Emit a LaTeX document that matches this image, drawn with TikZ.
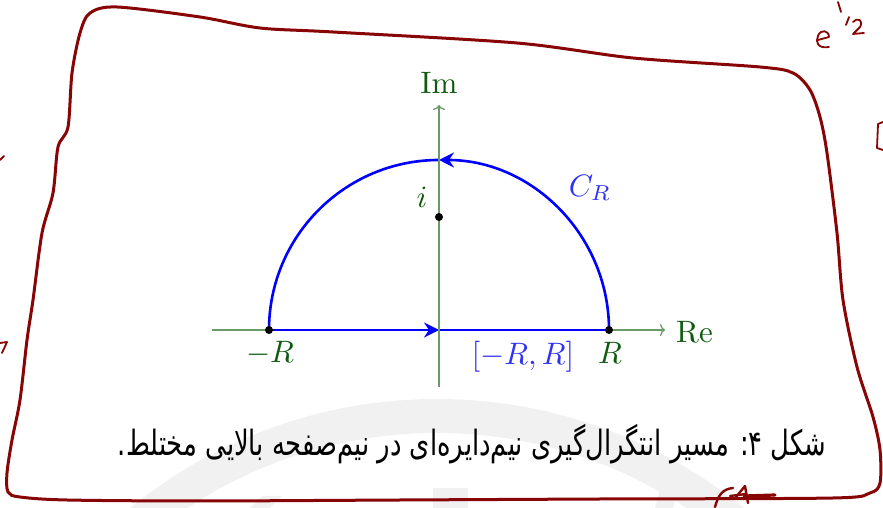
\documentclass[tikz,border=0pt]{standalone}
\usepackage{fontspec}
\newfontfamily\arabicfont[Script=Arabic]{DejaVu Sans}
\TeXXeTstate=1
\usetikzlibrary{arrows.meta}
\definecolor{axgreen}{RGB}{105,155,105}
\definecolor{labgreen}{RGB}{15,90,15}
\definecolor{lblue}{RGB}{50,50,245}
\definecolor{framered}{RGB}{135,5,5}
\definecolor{wmgray}{RGB}{241,241,241}
\newcommand\biglabtext[1]{\scalebox{3.1}{#1}}
\tikzset{
 axisline/.style={draw=axgreen, line width=1.3pt, -{To[length=5pt,width=12pt]}},
 bluepath/.style={draw=blue, line width=2.6pt},
 tipped/.style={bluepath, -{Stealth[length=15pt,width=15pt,inset=5pt]}},
 dotnode/.style={circle, fill=black, inner sep=0pt, minimum size=8pt},
 glab/.style={text=labgreen, inner sep=0pt, font=\fontsize{10}{12}\selectfont},
 blab/.style={text=lblue, inner sep=0pt, font=\fontsize{10}{12}\selectfont},
 hand/.style={draw=framered, line width=3pt, line cap=round, line join=round},
 scribble/.style={draw=framered, line width=1.8pt, line cap=round, line join=round},
}
\begin{document}
\begin{tikzpicture}[x=1pt,y=1pt]
\useasboundingbox (0,0) rectangle (883,508);
% watermark
\begin{scope}
\clip (0,0) rectangle (883,508);
\draw[wmgray, line width=34pt] (437,-377) circle[radius=469];
\fill[wmgray] (433,0) rectangle (468,20);
\fill[wmgray] (250,0) -- (262,12) -- (282,12) -- (270,0) -- cycle;
\fill[wmgray] (655,0) -- (660,18) -- (678,18) -- (673,0) -- cycle;
\end{scope}
% frame
\draw[hand] plot[smooth cycle, tension=0.5] coordinates {
(90,495) (117,501) (200,491) (260,480) (333,476) (517,465) (633,450)
(760,441) (793,435) (810,418) (820,391) (827,355) (837,275) (843,208) (857,141)
(873,91) (880,58) (880,25) (870,15) (833,10) (600,9) (400,8) (200,7) (67,8)
(20,11) (8,16) (7,35) (12,68) (20,108) (27,168) (33,208) (42,275) (53,315)
(58,361) (68,381) (72,435) (80,475)};
% scribbles
\draw[scribble] (818,468) -- (829,471) .. controls (829,478) and (820,479) .. (818,472) .. controls (815,466) and (818,459) .. (829,461);
\draw[scribble] (838,506) -- (841,496);
\draw[scribble] (849,491) -- (846,483);
\draw[scribble] (853,486) .. controls (857,491) and (864,488) .. (860,481) -- (853,474) -- (864,475);
\draw[scribble] (883,386) -- (878,384) -- (877,360) -- (883,358);
\draw[scribble] (0,348) -- (4,352);
\draw[scribble] (0,165) -- (7,166) -- (2,155);
\draw[scribble, line width=2.4pt] (715,1) .. controls (718,12) and (722,19) .. (733,20);
\draw[scribble, line width=2.4pt] (736,11) -- (745,22) -- (748,5);
\draw[scribble, line width=2.4pt] (730,12) -- (746,14);
\draw[scribble, line width=3.2pt] (744,12) -- (775,13);
% axes
\coordinate (O) at (439,178);
\coordinate (reL) at (212,178);
\coordinate (reR) at (665,178);
\coordinate (imB) at (439,121);
\coordinate (imT) at (439,403);
\coordinate (top) at (439,348);
\draw[axisline] (reL) -- (reR);
% contour
\coordinate (mR) at (269,178);
\coordinate (pR) at (609,178);
\draw[tipped] (mR) -- (O);
\draw[bluepath] (O) -- (pR);
\draw[tipped] (pR) arc[start angle=0, end angle=90, radius=170];
\draw[bluepath] (top) arc[start angle=90, end angle=180, radius=170];
\draw[axisline] (imB) -- (imT);
% dots
\node[dotnode] (dmR) at (mR) {};
\node[dotnode] (dpR) at (pR) {};
\node[dotnode] (di) at (439,291) {};
% labels
\node[glab] (imlab) at (439,425) {\biglabtext{Im}};
\node[glab, anchor=west] (relab) at (676,176) {\biglabtext{Re}};
\node[glab] (mRlab) at (270,155) {\biglabtext{$-R$}};
\node[glab] (pRlab) at (610,155) {\biglabtext{$R$}};
\node[glab] (ilab) at (422,311) {\biglabtext{$i$}};
\node[blab] (seglab) at (523,151) {\biglabtext{$[-R,R]$}};
\node[blab] (crlab) at (590,320) {\biglabtext{$C_R$}};
% caption
\node[inner sep=0pt] (cap) at (472,64) {\resizebox{708pt}{!}{\scalebox{1}[1.35]{\arabicfont\beginR شکل ۴: مسیر انتگرال^^^^200cگیری نیم^^^^200cدایره^^^^200cای در نیم^^^^200cصفحه بالایی مختلط.\endR}}};
\end{tikzpicture}
\end{document}
